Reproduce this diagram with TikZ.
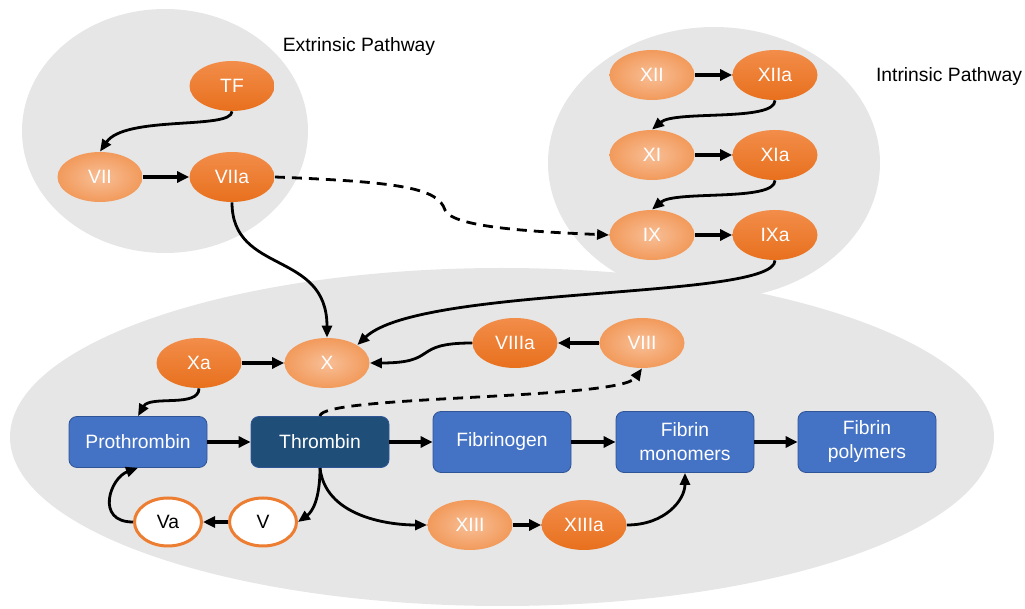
\documentclass[tikz,border=0pt]{standalone}
\usepackage{fontspec}
\setmainfont{Liberation Sans}
\usetikzlibrary{shapes.geometric,arrows.meta}
\definecolor{bgray}{HTML}{E6E6E6}
\definecolor{actTop}{HTML}{F28D4A}
\definecolor{actBot}{HTML}{E8701D}
\definecolor{inIn}{HTML}{F8BF97}
\definecolor{inOut}{HTML}{F29A5B}
\definecolor{facOr}{HTML}{ED7D31}
\definecolor{protB}{HTML}{4472C4}
\definecolor{protE}{HTML}{2F5597}
\definecolor{thrB}{HTML}{1F4E79}

\begin{document}
\begin{tikzpicture}[x=0.5pt,y=-0.5pt,
		font=\fontsize{9.65}{12}\selectfont,
		fac/.style={ellipse,minimum width=42.5pt,minimum height=25pt,inner sep=0pt,text=white},
		act/.style={fac,top color=actTop,bottom color=actBot},
		inact/.style={fac,inner color=inIn,outer color=inOut},
		cofac/.style={ellipse,minimum width=33.5pt,minimum height=24pt,inner sep=0pt,fill=white,draw=facOr,line width=1.5pt},
		prot/.style={rectangle,rounded corners=4pt,minimum width=69pt,minimum height=25.5pt,fill=protB,draw=protE,line width=0.4pt,text=white,align=center},
		fib/.style={prot,minimum height=30.5pt},
		arr/.style={line width=1.4pt,-{Triangle[length=6pt,width=5pt]}},
		sarr/.style={line width=2pt,-{Triangle[length=6pt,width=5.5pt]}},
		darr/.style={arr,dash pattern=on 5pt off 3.5pt}]
					\useasboundingbox (0,0) rectangle (1025,609);
					%PATHWAY AREAS
					\fill[bgray] (165,131) ellipse (143 and 122);
					\fill[bgray] (714,163) ellipse (166 and 136);
					\fill[bgray] (502,437) ellipse (492 and 169);
					\node (extlbl) at (359,47) {Extrinsic Pathway};
					\node (intlbl) at (949,77) {Intrinsic Pathway};
					
					%EXTRINSIC
					\node[act] (TF) at (232,86) {TF};
					\node[inact] (VII) at (100,177) {VII};
					\node[act] (VIIa) at (232,177) {VIIa};
					
					%INTRINSIC
					\node[inact] (XII) at (652,75) {XII};
					\node[act] (XIIa) at (775,75) {XIIa};
					\node[inact] (XI) at (652,155) {XI};
					\node[act] (XIa) at (775,155) {XIa};
					\node[inact] (IX) at (652,235) {IX};
					\node[act] (IXa) at (775,235) {IXa};
					
					%COMMON
					\node[act] (Xa) at (199,363) {Xa};
					\node[inact] (X) at (327,363) {X};
					\node[act] (VIIIa) at (515,343) {VIIIa};
					\node[inact] (VIII) at (642,343) {VIII};
					\node[prot] (proth) at (138,442) {Prothrombin};
					\node[prot,fill=thrB] (thromb) at (320,442) {Thrombin};
					\node[fib] (fibgen) at (502,442) {Fibrinogen};
					\node[fib] (fibmono) at (685,442) {Fibrin\\monomers};
					\node[fib] (fibpoly) at (867,442) {Fibrin\\polymers};
					\node[cofac] (Va) at (168,522) {Va};
					\node[cofac] (V) at (263,522) {V};
					\node[inact] (XIII) at (470,525) {XIII};
					\node[act] (XIIIa) at (584,525) {XIIIa};
					
					%ARROWS
					\draw[arr] (TF.south) .. controls (232,130) and (125,115) .. (VII.north);
					\draw[sarr] (VII) -- (VIIa);
					\draw[darr] (VIIa.east) .. controls (400,182) and (438,188) .. (445,210) .. controls (452,228) and (540,232) .. (IX.west);
					\draw[arr] (VIIa.south) .. controls (232,275) and (327,250) .. (X.north);
					\draw[sarr] (XII) -- (XIIa);
					\draw[arr] (XIIa.south) .. controls (775,122) and (675,110) .. (XI.north);
					\draw[sarr] (XI) -- (XIa);
					\draw[arr] (XIa.south) .. controls (775,202) and (675,190) .. (IX.north);
					\draw[sarr] (IX) -- (IXa);
					\draw[arr] (IXa.south) .. controls (775,300) and (420,285) .. (X.north east);
					\draw[sarr] (Xa) -- (X);
					\draw[sarr] (VIII) -- (VIIIa);
					\draw[arr] (VIIIa.west) .. controls (410,343) and (440,363) .. (X.east);
					\draw[arr] (Xa.south) .. controls (199,408) and (150,395) .. (proth.north);
					\draw[sarr] (proth) -- (thromb);
					\draw[darr] (thromb.north) .. controls (320,395) and (620,400) .. (VIII.south);
					\draw[sarr] (thromb) -- (fibgen);
					\draw[sarr] (fibgen) -- (fibmono);
					\draw[sarr] (fibmono) -- (fibpoly);
					\draw[arr] (thromb.south) .. controls (320,500) and (312,512) .. (V.east);
					\draw[arr] (thromb.south) .. controls (325,515) and (385,525) .. (XIII.west);
					\draw[sarr] (V) -- (Va);
					\draw[arr] (Va.west) .. controls (95,522) and (110,478) .. (proth.south);
					\draw[sarr] (XIII) -- (XIIIa);
					\draw[arr] (XIIIa.east) .. controls (665,525) and (685,500) .. (fibmono.south);
				  \end{tikzpicture}
\end{document}
